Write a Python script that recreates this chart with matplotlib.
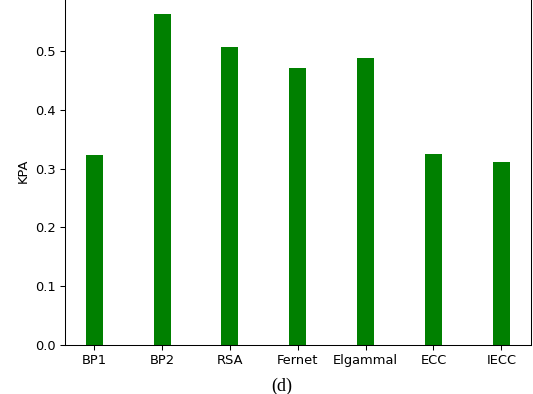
import matplotlib
matplotlib.use("Agg")
import matplotlib.pyplot as plt

methods = ["BP1", "BP2", "RSA", "Fernet", "Elgammal", "ECC", "IECC"]
kpa = [0.324, 0.563, 0.507, 0.472, 0.488, 0.325, 0.311]

scale = 0.9375
plt.rcParams.update({
    "font.size": 10 * scale,
    "axes.linewidth": 0.8 * scale,
    "xtick.major.width": 0.8 * scale,
    "ytick.major.width": 0.8 * scale,
    "xtick.major.size": 3.5 * scale,
    "ytick.major.size": 3.5 * scale,
    "xtick.major.pad": 3.5 * scale,
    "ytick.major.pad": 3.5 * scale,
})

W, H = 533, 394
fig = plt.figure(figsize=(W / 100, H / 100), dpi=100)
left, right, bottom, top = 64.5, 531, 345, -2.5
ax = fig.add_axes([left / W, (H - bottom) / H, (right - left) / W, (bottom - top) / H])

ax.bar(methods, kpa, width=0.25, color="green")
ax.set_ylabel("KPA", labelpad=4 * scale)
ax.set_yticks([0.0, 0.1, 0.2, 0.3, 0.4, 0.5])

fig.text(282 / W, (H - 386) / H, "(d)", ha="center", va="center",
         family="Liberation Serif", fontsize=13)

fig.savefig("out.png", dpi=100)
